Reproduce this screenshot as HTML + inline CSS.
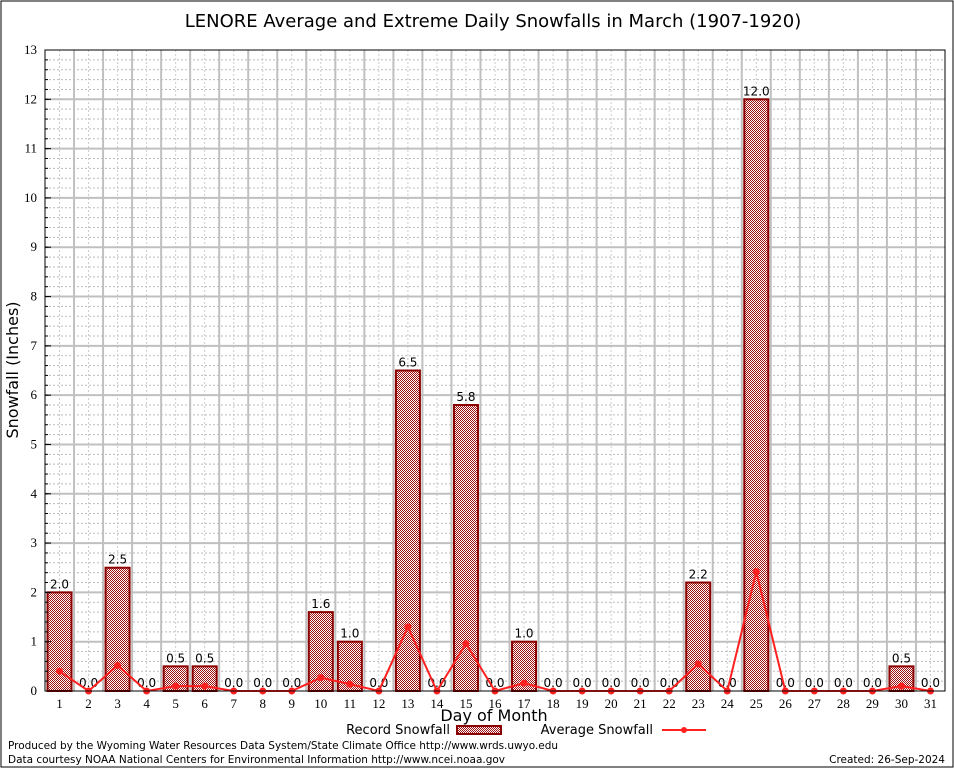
<!DOCTYPE html>
<html><head><meta charset="utf-8"><style>
body{margin:0;background:#fff}
svg text{font-family:"DejaVu Sans","Liberation Sans",sans-serif}
svg text.serif{font-family:"Liberation Serif",serif}
</style></head><body>
<svg id="c" width="954" height="768" xmlns="http://www.w3.org/2000/svg">
<defs>
<pattern id="chk" width="2" height="2" patternUnits="userSpaceOnUse">
<rect width="2" height="2" fill="#fff"/><rect width="1" height="1" fill="#a01010"/><rect x="1" y="1" width="1" height="1" fill="#a01010"/>
</pattern>
</defs>
<rect x="1" y="1" width="952" height="766" fill="#fff" stroke="#000"/>
<text x="493" y="27" font-size="18" text-anchor="middle">LENORE Average and Extreme Daily Snowfalls in March (1907-1920)</text>
<g id="grid"></g>
<g id="bars"></g>
<g id="line"></g>
<rect x="45" y="50" width="900" height="641" fill="none" stroke="#000"/>
<g id="axes"></g>
<text x="18" y="370" font-size="16" text-anchor="middle" transform="rotate(-90 18 370)">Snowfall (Inches)</text>
<text x="494" y="721" font-size="16" text-anchor="middle">Day of Month</text>
<g>
<text x="450" y="734" font-size="13" text-anchor="end">Record Snowfall</text>
<rect x="457" y="726" width="44" height="8" fill="url(#chk)" stroke="#8b0000" stroke-width="2"/>
</g>
<g>
<text x="653" y="734" font-size="13" text-anchor="end">Average Snowfall</text>
<line x1="662" y1="730" x2="706" y2="730" stroke="#ff2020" stroke-width="2"/>
<circle cx="684" cy="730" r="3" fill="#ff2020"/>
</g>
<text x="8" y="749" font-size="10.5" textLength="550">Produced by the Wyoming Water Resources Data System/State Climate Office http://www.wrds.uwyo.edu</text>
<text x="8" y="763" font-size="10.5" textLength="497">Data courtesy NOAA National Centers for Environmental Information http://www.ncei.noaa.gov</text>
<text x="945" y="763" font-size="10.5" text-anchor="end">Created:  26-Sep-2024</text>
</svg>
<script>
const days=[1,2,3,4,5,6,7,8,9,10,11,12,13,14,15,16,17,18,19,20,21,22,23,24,25,26,27,28,29,30,31];
const recordSnow=[2.0,0,2.5,0,0.5,0.5,0,0,0,1.6,1.0,0,6.5,0,5.8,0,1.0,0,0,0,0,0,2.2,0,12.0,0,0,0,0,0.5,0];
const avgSnow=[0.4,0,0.52,0,0.1,0.1,0,0,0,0.27,0.14,0,1.3,0,0.96,0,0.16,0,0,0,0,0,0.55,0,2.42,0,0,0,0,0.1,0];
const yTicks=[0,1,2,3,4,5,6,7,8,9,10,11,12,13];
const NS="http://www.w3.org/2000/svg";
const X0=45,X1=945,Y0=691,Y1=50,YMAX=13;
const slot=(X1-X0)/days.length;
const xc=d=>X0+(d-0.5)*slot;
const y=v=>Y0-(v/YMAX)*(Y0-Y1);
function mk(t,a,p){const e=document.createElementNS(NS,t);for(const k in a)e.setAttribute(k,a[k]);p.appendChild(e);return e;}
const G=document.getElementById('grid'),B=document.getElementById('bars'),L=document.getElementById('line'),A=document.getElementById('axes');
for(let v=0.2;v<YMAX;v+=0.2){if(Math.abs(v-Math.round(v))<0.01)continue;
 mk('line',{x1:X0,x2:X1,y1:y(v),y2:y(v),stroke:'#bbb','stroke-width':1,'stroke-dasharray':'2,2'},G);}
days.forEach(d=>{mk('line',{x1:xc(d),x2:xc(d),y1:Y1,y2:Y0,stroke:'#ccc','stroke-width':1,'stroke-dasharray':'2,2'},G);});
for(let i=1;i<days.length;i++){const x=X0+i*slot;mk('line',{x1:x,x2:x,y1:Y1,y2:Y0,stroke:'#c0c0c0','stroke-width':2},G);}
yTicks.forEach(v=>{if(v>0&&v<YMAX)mk('line',{x1:X0,x2:X1,y1:y(v),y2:y(v),stroke:'#c0c0c0','stroke-width':2},G);
 const t=mk('text',{x:X0-8,y:y(v)+4,'font-size':13,'text-anchor':'end','class':'serif'},A);t.textContent=v;
 
 
 mk('line',{x1:X0,x2:X0+6,y1:y(v),y2:y(v),stroke:'#000'},A);});
for(let v=0.2;v<YMAX;v+=0.2)mk('line',{x1:X0,x2:X0+3,y1:y(v),y2:y(v),stroke:'#000'},A);
days.forEach((d,i)=>{
 const t=mk('text',{x:xc(d),y:Y0+17,'font-size':13,'text-anchor':'middle','class':'serif'},A);t.textContent=d;
 
 
 const v=recordSnow[i];
 if(v>0){const r=mk('rect',{x:xc(d)-12,y:y(v),width:24,height:Y0-y(v),fill:'url(#chk)',stroke:'#8b0000','stroke-width':2},B);
  
  }
 const lb=mk('text',{x:xc(d),y:y(v)-4,'font-size':12,'text-anchor':'middle'},B);lb.textContent=v.toFixed(1);
 
 
});
const pl=mk('polyline',{points:days.map((d,i)=>xc(d)+','+y(avgSnow[i])).join(' '),fill:'none',stroke:'#ff2020','stroke-width':2},L);


days.forEach((d,i)=>{const c=mk('circle',{cx:xc(d),cy:y(avgSnow[i]),r:3.5,fill:'#ff2020'},L);
 
 });
</script>
</body></html>
